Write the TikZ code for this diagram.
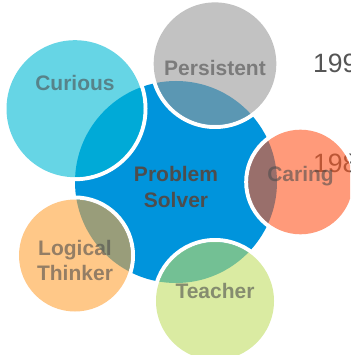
\documentclass[tikz,border=0pt]{standalone}
\usepackage{fontspec}
\setmainfont{Liberation Sans}
\definecolor{corecol}{HTML}{0094DC}
\definecolor{curiouscol}{HTML}{00B9D4}
\definecolor{persistcol}{HTML}{999999}
\definecolor{caringcol}{HTML}{FF5721}
\definecolor{logiccol}{HTML}{FFA339}
\definecolor{teachcol}{HTML}{C1DE64}
\definecolor{inktext}{HTML}{4D4D4D}
\definecolor{yearink}{HTML}{555555}
\tikzset{
  bubble/.style={circle,inner sep=0pt,outer sep=0pt,draw=none,fill opacity=0.6},
  halo/.style={circle,inner sep=0pt,outer sep=0pt,draw=white,line width=4pt,fill=none},
  corelabel/.style={font=\fontsize{21}{25.5}\selectfont\bfseries,text=inktext,align=center,inner sep=0pt,anchor=base},
  satlabel/.style={font=\fontsize{21}{25}\selectfont\bfseries,text=inktext,text opacity=0.6,align=center,inner sep=0pt,anchor=base},
  yearlabel/.style={font=\fontsize{26.5}{30}\selectfont,text=yearink,inner sep=0pt,anchor=base west}
}
\begin{document}
\begin{tikzpicture}[x=1pt,y=-1pt]
\useasboundingbox (0,0) rectangle (350,355);
\clip (0,0) rectangle (350,355);
\node[yearlabel] (yearA) at (313,72.5) {199};
\node[yearlabel] (yearB) at (313,172.5) {198};
\node[circle,inner sep=0pt,fill=corecol,minimum size=202pt] (core) at (176,182) {};
\node[corelabel] (coretext) at (176,207.5) {Problem\\Solver};
\node[halo,minimum size=141pt] (curiousring) at (75,108.7) {};
\node[halo,minimum size=126.6pt] (persistring) at (215,63.7) {};
\node[halo,minimum size=108.6pt] (caringring) at (300.5,182) {};
\node[halo,minimum size=116pt] (logicring) at (75,255.5) {};
\node[halo,minimum size=122pt] (teachring) at (215,301) {};
\node[bubble,fill=curiouscol,minimum size=137pt] (curious) at (75,108.7) {};
\node[bubble,fill=persistcol,minimum size=122.6pt] (persist) at (215,63.7) {};
\node[bubble,fill=caringcol,minimum size=104.6pt] (caring) at (300.5,182) {};
\node[bubble,fill=logiccol,minimum size=112pt] (logic) at (75,255.5) {};
\node[bubble,fill=teachcol,minimum size=118pt] (teach) at (215,301) {};
\node[satlabel] (curioustext) at (75,90.7) {Curious};
\node[satlabel] (persisttext) at (215,76) {Persistent};
\node[satlabel] (caringtext) at (300.5,182) {Caring};
\node[satlabel] (logictext) at (75,280) {Logical\\Thinker};
\node[satlabel] (teachtext) at (215,298) {Teacher};
\end{tikzpicture}
\end{document}
